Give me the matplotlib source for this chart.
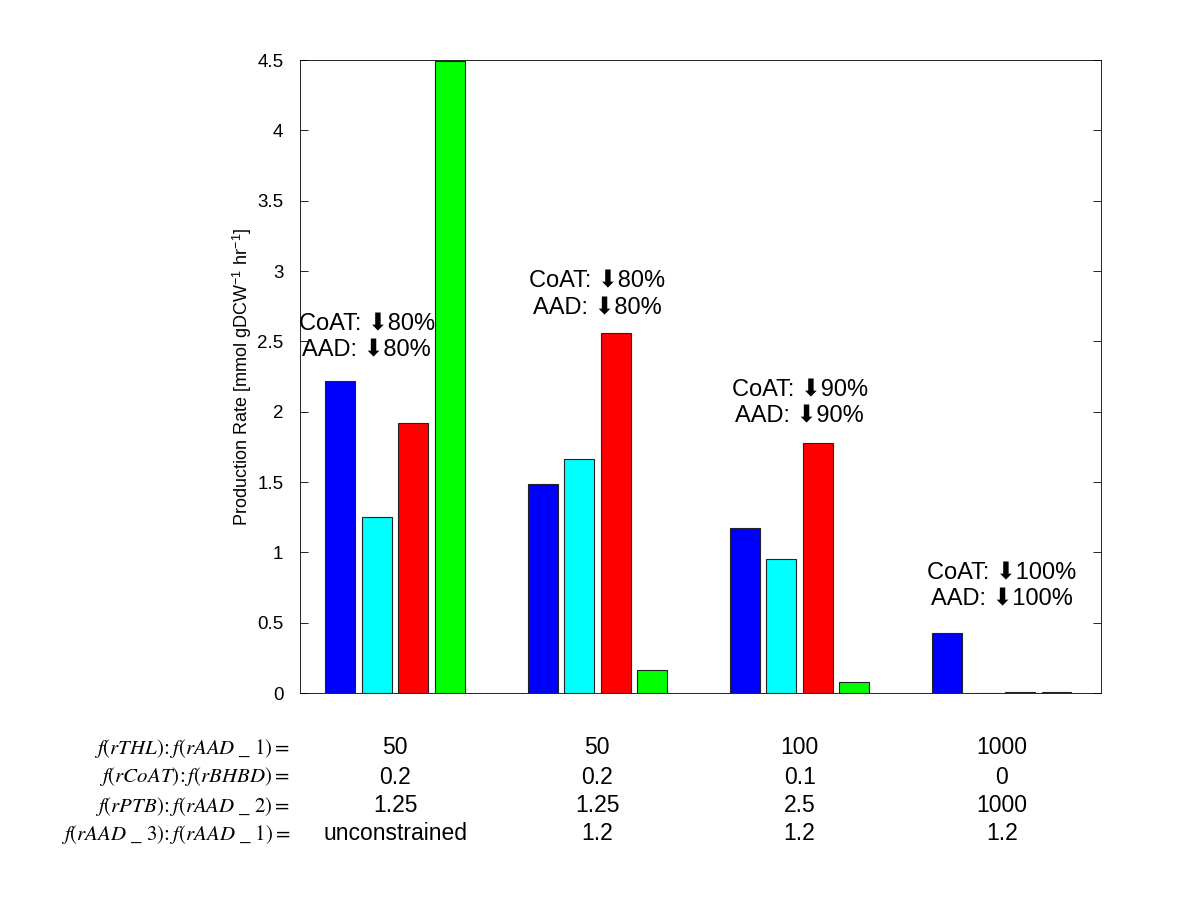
import matplotlib
matplotlib.use("Agg")
import matplotlib.pyplot as plt
import matplotlib.transforms as mtransforms
import numpy as np

plt.rcParams['font.family'] = ['Liberation Sans', 'DejaVu Sans']
plt.rcParams['mathtext.fontset'] = 'stix'

groups = [1, 2, 3, 4]
series_colors = ['#0000ff', '#00ffff', '#ff0000', '#00ff00']
blue_vals = [2.22, 1.485, 1.175, 0.43]
cyan_vals = [1.25, 1.665, 0.955, 0.0]
red_vals = [1.92, 2.56, 1.78, 0.006]
green_vals = [4.49, 0.16, 0.08, 0.006]
series = [blue_vals, cyan_vals, red_vals, green_vals]

annot_coat = ["CoAT: \u2B0780%", "CoAT: \u2B0780%", "CoAT: \u2B0790%", "CoAT: \u2B07100%"]
annot_aad = ["AAD: \u2B0780%", "AAD: \u2B0780%", "AAD: \u2B0790%", "AAD: \u2B07100%"]
annot_y = [2.53, 2.83, 2.06, 0.76]
annot_x = [0.86, 2.0, 3.0, 4.0]

row_labels = [r"$f\left(rTHL\right)\!:f\left(rAAD\ \_\ 1\right) =$",
              r"$f\left(rCoAT\right)\!:f\left(rBHBD\right) =$",
              r"$f\left(rPTB\right)\!:f\left(rAAD\ \_\ 2\right) =$",
              r"$f\left(rAAD\ \_\ 3\right)\!:f\left(rAAD\ \_\ 1\right) =$"]
row_values = [["50", "50", "100", "1000"],
              ["0.2", "0.2", "0.1", "0"],
              ["1.25", "1.25", "2.5", "1000"],
              ["unconstrained", "1.2", "1.2", "1.2"]]

fig = plt.figure(figsize=(12, 9), dpi=100)
ax = fig.add_axes([0.25, 0.23, 0.6675, 0.7033])

x = np.array(groups, dtype=float)
offsets = [-0.27, -0.09, 0.09, 0.27]
width = 0.148
for vals, col, off in zip(series, series_colors, offsets):
    ax.bar(x + off, vals, width=width, color=col, edgecolor='#222222', linewidth=0.8)

ax.set_xlim(0.53, 4.49)
ax.set_ylim(0, 4.5)
ax.set_yticks(np.arange(0, 4.51, 0.5))
ax.set_yticklabels(["0", "0.5", "1", "1.5", "2", "2.5", "3", "3.5", "4", "4.5"])
ax.set_xticks([])
ax.tick_params(axis='y', direction='in', right=True, labelsize=13.5, length=6,
               width=0.6, pad=12)
for s in ax.spines.values():
    s.set_linewidth(0.6)
ax.set_ylabel("Production Rate [mmol gDCW$^{\\mathregular{-1}}$ hr$^{\\mathregular{-1}}$]",
              fontsize=13, labelpad=2)

for xa, ya, t1, t2 in zip(annot_x, annot_y, annot_coat, annot_aad):
    ax.text(xa, ya, t1 + "\n" + t2, ha='center', va='center', fontsize=17,
            linespacing=1.25, family=['Liberation Sans', 'DejaVu Sans'])

trans = mtransforms.blended_transform_factory(ax.transData, fig.transFigure)
row_y = [1 - 748 / 900, 1 - 777 / 900, 1 - 806 / 900, 1 - 834 / 900]
for lab, vals, ry in zip(row_labels, row_values, row_y):
    fig.text(290 / 1200, ry, lab, ha='right', va='center', fontsize=15)
    for g, v in zip(groups, vals):
        ax.text(g, ry, v, transform=trans, ha='center', va='center', fontsize=16.5)

fig.savefig("out.png", dpi=100)
